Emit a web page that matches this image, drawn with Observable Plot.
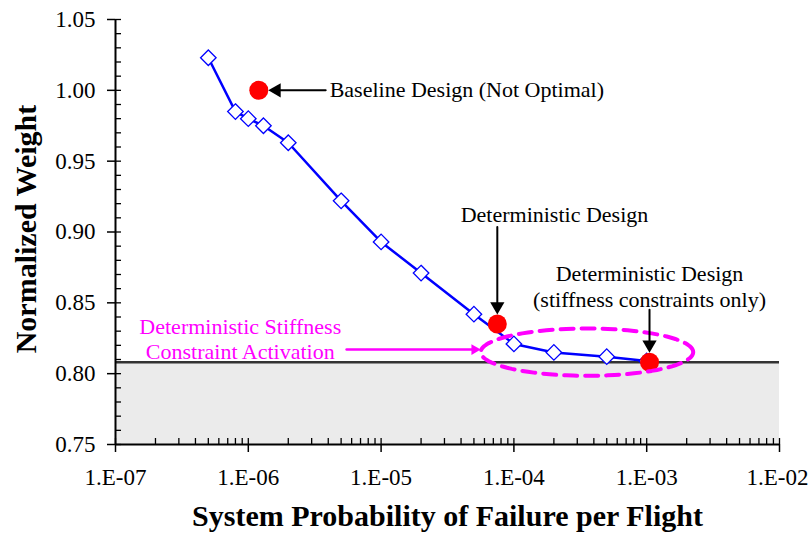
<!DOCTYPE html>
<html>
<head>
<meta charset="utf-8">
<script src="https://cdn.jsdelivr.net/npm/d3@7"></script>
<script src="https://cdn.jsdelivr.net/npm/@observablehq/plot@0.6"></script>
<style>
  html, body { margin: 0; padding: 0; background: #fff; overflow: hidden; }
</style>
</head>
<body>
<div id="chart"></div>
<script>
// Optimal designs: normalized weight vs. system probability of failure per flight
const frontPf = [5e-7, 8e-7, 1e-6, 1.3e-6, 2e-6, 5e-6, 1e-5, 2e-5, 5e-5, 1e-4, 2e-4, 5e-4, 1e-3];
const frontWeight = [1.023, 0.985, 0.980, 0.975, 0.963, 0.922, 0.893, 0.871, 0.842, 0.821, 0.815, 0.812, 0.809];

// Highlighted single designs
const designNames = ["Baseline", "Deterministic", "Stiffness only"];
const designPf = [1.2e-6, 7.5e-5, 1.05e-3];
const designWeight = [1.000, 0.835, 0.808];

// Weight floor set by the stiffness constraints
const stiffnessFloor = 0.808;

// Axis ticks
const xTicks = [1e-7, 1e-6, 1e-5, 1e-4, 1e-3, 1e-2];
const xTickLabels = ["1.E-07", "1.E-06", "1.E-05", "1.E-04", "1.E-03", "1.E-02"];
const yTicks = [0.75, 0.80, 0.85, 0.90, 0.95, 1.00, 1.05];
const yTickLabels = ["0.75", "0.80", "0.85", "0.90", "0.95", "1.00", "1.05"];

// Annotation anchors (data coordinates)
const baselineNote = {text: "Baseline Design (Not Optimal)", x: 4.1e-6, y: 1.0};
const deterministicNote = {text: "Deterministic Design", x: 2.02e-4, y: 0.912};
const stiffnessNote = {text: "Deterministic Design\n(stiffness constraints only)", x: 1.05e-3, y: 0.862};
const activationNote = {text: "Deterministic Stiffness\nConstraint Activation", x: 8.7e-7, y: 0.825, arrowFrom: 5.5e-6, arrowY: 0.817};
// Region where the stiffness constraint becomes active (center, half-width in decades, half-height)
const activeRegion = {cx: 3.55e-4, cy: 0.8152, halfDecades: 0.80, halfHeight: 0.0167};

const front = frontPf.map((x, i) => ({x, y: frontWeight[i]}));
const designs = designNames.map((name, i) => ({name, x: designPf[i], y: designWeight[i]}));
const [baseline, deterministic, stiffOnly] = designs;

const lastX = xTicks[xTicks.length - 1];
const xMinor = xTicks.slice(0, -1).flatMap(d => d3.range(1, 10).map(k => k * d)).concat([lastX]);
const yMinor = d3.range(75, 106).map(k => k / 100);
// the right-most decade label is drawn separately, right-aligned so it stays on the page
const xLabel = d => (d === lastX ? "" : xTickLabels[xTicks.indexOf(d)]);

// Dashed outline of the active region, drawn as a closed path in log-x space
const ring = d3.range(0, 96).map(i => {
  const t = (i / 96) * 2 * Math.PI;
  return {
    x: 10 ** (Math.log10(activeRegion.cx) + activeRegion.halfDecades * Math.cos(t)),
    y: activeRegion.cy + activeRegion.halfHeight * Math.sin(t)
  };
});
const regionLeft = 10 ** (Math.log10(activeRegion.cx) - activeRegion.halfDecades);

const dotR = 9.5;
const headR = 5.3;
const headOffset = dotR + 1.555 * headR;
const tickFont = 23;

const chart = Plot.plot({
  width: 808,
  height: 537,
  marginLeft: 115,
  marginRight: 29,
  marginTop: 19,
  marginBottom: 93,
  style: {fontFamily: "'Liberation Serif', 'Times New Roman', serif", fontSize: "23px", background: "#fff", color: "#000"},
  x: {type: "log", domain: [xTicks[0], lastX]},
  y: {domain: [yTicks[0], yTicks[yTicks.length - 1]]},
  marks: [
    // shaded infeasible band below the stiffness floor
    Plot.rect([stiffnessFloor], {x1: xTicks[0], x2: lastX, y1: yTicks[0], y2: d => d, fill: "#ebebeb"}),
    Plot.ruleY([stiffnessFloor], {stroke: "#333", strokeWidth: 2.5}),

    // axes
    Plot.axisY({ticks: yTicks, tickFormat: d => yTickLabels[yTicks.indexOf(d)], tickSize: 8, tickPadding: 12, fontSize: tickFont, strokeWidth: 1.5, label: null}),
    Plot.axisY({ticks: yMinor, tickFormat: () => "", tickSize: 6, dx: 6, strokeWidth: 1.3, label: null}),
    Plot.axisX({ticks: xTicks, tickFormat: xLabel, tickSize: 8, tickPadding: 16, fontSize: tickFont, strokeWidth: 1.5, label: null}),
    Plot.axisX({ticks: [lastX], tickFormat: d => xTickLabels[xTicks.indexOf(d)], tickSize: 0, tickPadding: 24, fontSize: tickFont, textAnchor: "end", dx: 29, label: null}),
    Plot.axisX({ticks: xMinor, tickFormat: () => "", tickSize: 6, dy: -6, strokeWidth: 1.3, label: null}),
    Plot.ruleX([xTicks[0]], {stroke: "#000", strokeWidth: 2}),
    Plot.ruleY([yTicks[0]], {stroke: "#000", strokeWidth: 2}),

    // optimal designs
    Plot.line(front, {x: "x", y: "y", stroke: "#0000ff", strokeWidth: 2.5}),
    Plot.dot(front, {x: "x", y: "y", symbol: "diamond2", r: 7, stroke: "#0000ff", strokeWidth: 1.3, fill: "#fff"}),

    // highlighted designs
    Plot.dot(designs, {x: "x", y: "y", r: dotR, fill: "#ff0000"}),

    // active stiffness constraint region
    Plot.line(ring, {x: "x", y: "y", curve: "linear-closed", stroke: "#ff00ff", strokeWidth: 4, strokeDasharray: "13,8"}),

    // baseline annotation
    Plot.text([baselineNote], {x: "x", y: "y", text: "text", textAnchor: "start", fontSize: 22}),
    Plot.arrow([baselineNote], {x1: "x", y1: "y", x2: baseline.x, y2: baseline.y, headLength: 0, insetStart: 4, insetEnd: dotR + 11, stroke: "#000", strokeWidth: 2}),
    Plot.dot([baseline], {x: "x", y: "y", symbol: "triangle", r: headR, rotate: -90, dx: headOffset, fill: "#000"}),

    // deterministic design annotation
    Plot.text([deterministicNote], {x: "x", y: "y", text: "text", fontSize: 22}),
    Plot.arrow([deterministicNote], {x1: deterministic.x, y1: "y", x2: deterministic.x, y2: deterministic.y, headLength: 0, insetStart: 12, insetEnd: dotR + 11, stroke: "#000", strokeWidth: 2}),
    Plot.dot([deterministic], {x: "x", y: "y", symbol: "triangle", r: headR, rotate: 180, dy: -headOffset, fill: "#000"}),

    // stiffness-only design annotation
    Plot.text([stiffnessNote], {x: "x", y: "y", text: "text", fontSize: 22, lineHeight: 1.2}),
    Plot.arrow([stiffnessNote], {x1: stiffOnly.x, y1: "y", x2: stiffOnly.x, y2: stiffOnly.y, headLength: 0, insetStart: 24, insetEnd: dotR + 11, stroke: "#000", strokeWidth: 2}),
    Plot.dot([stiffOnly], {x: "x", y: "y", symbol: "triangle", r: headR, rotate: 180, dy: -headOffset, fill: "#000"}),

    // constraint activation annotation
    Plot.text([activationNote], {x: "x", y: "y", text: "text", fontSize: 22, lineHeight: 1.15, fill: "#ff00ff"}),
    Plot.arrow([activationNote], {x1: "arrowFrom", y1: "arrowY", x2: regionLeft, y2: "arrowY", headLength: 0, insetEnd: 8, stroke: "#ff00ff", strokeWidth: 2.5}),
    Plot.dot([activationNote], {x: regionLeft, y: "arrowY", symbol: "triangle", r: 4, rotate: 90, dx: -6.2, fill: "#ff00ff"}),

    // axis titles
    Plot.text(["System Probability of Failure per Flight"], {text: d => d, frameAnchor: "bottom", lineAnchor: "middle", dy: 72, fontSize: 30, fontWeight: "bold"}),
    Plot.text(["Normalized Weight"], {text: d => d, frameAnchor: "left", textAnchor: "middle", lineAnchor: "middle", rotate: -90, dx: -89, dy: -3, fontSize: 30, fontWeight: "bold"})
  ]
});

document.getElementById("chart").append(chart);
</script>
</body>
</html>
